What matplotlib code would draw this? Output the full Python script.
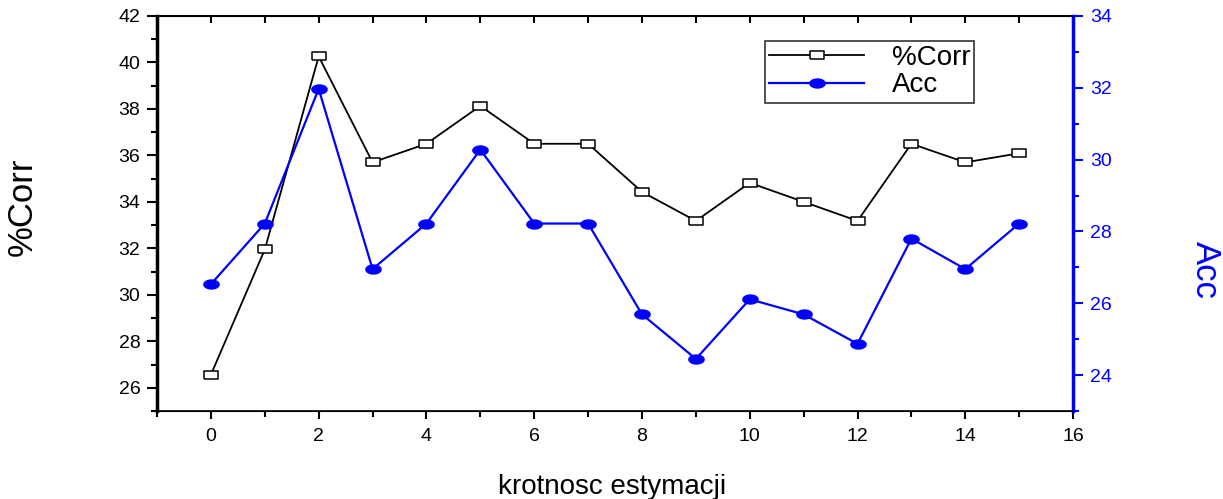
import numpy as np
import matplotlib
matplotlib.use("Agg")
from matplotlib import pyplot as plt
from matplotlib.ticker import MultipleLocator

plt.rcParams['font.family'] = ['Liberation Sans', 'DejaVu Sans']

x = list(range(16))
corr = [26.56, 31.95, 40.26, 35.70, 36.50, 38.13, 36.50, 36.50,
        34.43, 33.18, 34.82, 34.00, 33.18, 36.50, 35.70, 36.09]
acc = [26.53, 28.22, 31.97, 26.95, 28.22, 30.28, 28.22, 28.22,
       25.69, 24.45, 26.11, 25.69, 24.87, 27.80, 26.95, 28.22]

# wide marker shapes (the original is stretched horizontally)
box = [(-1.6, -1), (1.6, -1), (1.6, 1), (-1.6, 1), (-1.6, -1)]
t = np.linspace(0, 2 * np.pi, 40)
ell = list(zip(1.7 * np.cos(t), np.sin(t)))

fig = plt.figure(figsize=(12.23, 4.99), dpi=100)
ax = fig.add_axes([0.1284, 0.1764, 0.7490, 0.7916])
ax2 = ax.twinx()

l1, = ax.plot(x, corr, color='black', lw=1.3, marker=box, ms=9.5,
              mfc='white', mec='black', mew=1.1, label='%Corr', zorder=3)
l2, = ax2.plot(x, acc, color='blue', lw=1.6, marker=ell, ms=11,
               mfc='blue', mec='blue', label='Acc')

ax.set_xlim(-1, 16)
ax.set_ylim(25, 42)
ax2.set_ylim(23, 34)

ax.xaxis.set_major_locator(MultipleLocator(2))
ax.xaxis.set_minor_locator(MultipleLocator(1))
ax.yaxis.set_major_locator(MultipleLocator(2))
ax.yaxis.set_minor_locator(MultipleLocator(1))
ax2.yaxis.set_major_locator(MultipleLocator(2))
ax2.yaxis.set_minor_locator(MultipleLocator(1))

ax.tick_params(axis='x', which='both', direction='out', top=False, labelsize=14, width=1.5)
ax.tick_params(axis='x', which='major', length=6, pad=6)
ax.tick_params(axis='x', which='minor', length=4)
ax.tick_params(axis='y', which='both', direction='out', right=False, labelsize=14, width=1.5, pad=5)
ax.tick_params(axis='y', which='major', length=7)
ax.tick_params(axis='y', which='minor', length=4)
ax2.tick_params(axis='y', which='both', direction='out', colors='blue', labelsize=14, width=1.5, pad=5)
ax2.tick_params(axis='y', which='major', length=7)
ax2.tick_params(axis='y', which='minor', length=4)

# top ticks point inward, no labels
top = ax.secondary_xaxis('top')
top.xaxis.set_major_locator(MultipleLocator(2))
top.xaxis.set_minor_locator(MultipleLocator(1))
top.tick_params(axis='x', which='both', direction='in', labeltop=False, width=1.5, length=5)
top.spines['top'].set_linewidth(1.2)

ax.spines['left'].set_linewidth(2.5)
ax.spines['bottom'].set_linewidth(1.2)
ax.spines['top'].set_linewidth(1.2)
ax2.spines['right'].set_color('blue')
ax2.spines['right'].set_linewidth(2.5)
ax2.spines['left'].set_visible(False)
ax.spines['right'].set_visible(False)

fig.text(612 / 1223, 1 - 487 / 499, 'krotnosc estymacji', fontsize=20,
         ha='center', va='center')
fig.text(22 / 1223, 1 - 207 / 499, '%Corr', fontsize=25, rotation=90,
         ha='center', va='center')
fig.text(1205 / 1223, 1 - 270 / 499, 'Acc', fontsize=25, rotation=270,
         color='blue', ha='center', va='center')

leg = ax2.legend([l1, l2], ['%Corr', 'Acc'], loc='upper left',
                 bbox_to_anchor=(0.664, 0.937), borderaxespad=0, fontsize=20,
                 frameon=True, fancybox=False, edgecolor='black',
                 handlelength=3.4, borderpad=0.15, labelspacing=0.05,
                 handletextpad=1.0)
leg.get_frame().set_linewidth(1.2)

fig.savefig('out.png', dpi=100)
